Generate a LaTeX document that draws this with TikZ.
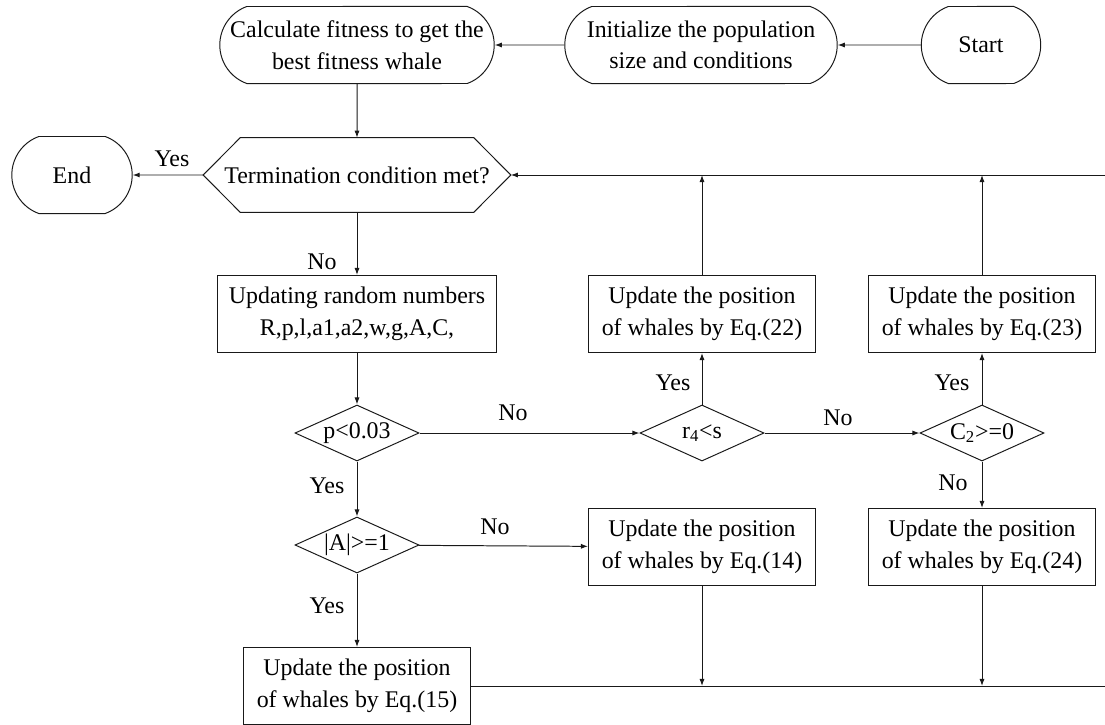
\documentclass[tikz,border=0pt]{standalone}
\usepackage{fontspec}
\setmainfont{Liberation Serif}
\usetikzlibrary{arrows.meta, shapes.geometric, shapes.misc}

\begin{document}
\begin{tikzpicture}[x=0.025cm, y=-0.025cm,
    every node/.style={font=\fontsize{17}{22.5}\selectfont, text=black},
    line/.style={draw=black!90, line width=0.7pt},
    arrowline/.style={line, -{Latex[length=5pt,width=3.6pt]}},
    terminal/.style={line, rounded rectangle, rounded rectangle arc length=140,
        minimum height=1.925cm, align=center, inner sep=2pt},
    process/.style={line, rectangle, minimum width=5.675cm, minimum height=1.925cm,
        align=center, inner sep=2pt},
    decision/.style={line, diamond, aspect=2.3, minimum width=3.1cm,
        minimum height=1.4cm, inner sep=0pt},
    judge/.style={rectangle, minimum width=7.675cm, minimum height=1.85cm, inner sep=0pt}]

    \useasboundingbox (0,0) rectangle (1105,724);

    % top row
    \node[terminal, minimum width=3.125cm] (start) at (981,45) {Start};
    \node[terminal, minimum width=6.95cm] (init) at (701,45) {Initialize the population\\size and conditions};
    \node[terminal, minimum width=7cm] (calc) at (357,45) {Calculate fitness to get the\\best fitness whale};

    \node[terminal, minimum width=3.15cm] (end) at (72,175) {End};
    \node[judge] (term) at (357,175) {Termination condition met?};
    \draw[line] (term.west) -- ([xshift=0.925cm]term.north west) -- ([xshift=-0.925cm]term.north east)
        -- (term.east) -- ([xshift=-0.925cm]term.south east) -- ([xshift=0.925cm]term.south west) -- cycle;
    \node[process, minimum width=6.95cm] (upd) at (357,314) {Updating random numbers\\R,p,l,a1,a2,w,g,A,C,};

    % decisions
    \node[decision] (pcheck) at (357,433) {p<0.03};
    \node[decision] (acheck) at (357,545) {|A|>=1};
    \node[decision] (rcheck) at (702,433) {r\textsubscript{4}<s};
    \node[decision] (ccheck) at (982,433) {C\textsubscript{2}>=0};

    % position updates
    \foreach \e/\x/\y in {22/702/314, 23/982/314, 14/702/547, 24/982/547, 15/357/686}
    {
        \node[process] (eq\e) at (\x,\y) {Update the position\\of whales by Eq.(\e)};
    };

    \coordinate (cTopR) at (1105,175);
    \coordinate (cBotR) at (1105,686);

    % connectors
    \draw[arrowline] (start) -- (init);
    \draw[arrowline] (init) -- (calc);
    \draw[arrowline] (calc) -- (term);
    \draw[arrowline] (term) -- (end);
    \draw[arrowline] (term) -- (upd);
    \draw[arrowline] (upd) -- (pcheck);
    \draw[arrowline] (pcheck) -- (rcheck);
    \draw[arrowline] (pcheck) -- (acheck);
    \draw[arrowline] (acheck) -- (eq14);
    \draw[arrowline] (acheck) -- (eq15);
    \draw[arrowline] (rcheck) -- (eq22);
    \draw[arrowline] (rcheck) -- (ccheck);
    \draw[arrowline] (ccheck) -- (eq23);
    \draw[arrowline] (ccheck) -- (eq24);

    % loop back
    \draw[line] (eq15) -- (cBotR);
    \draw[arrowline] (eq14) -- (eq14 |- cBotR);
    \draw[arrowline] (eq24) -- (eq24 |- cBotR);
    \draw[arrowline] (eq22) -- (eq22 |- cTopR);
    \draw[arrowline] (eq23) -- (eq23 |- cTopR);
    \draw[arrowline] (cTopR) -- (term);

    % branch labels
    \foreach \n/\x/\y/\t in
    {lbEnd/172/159/Yes,
     lbUpd/322/262/No,
     lbPYes/327/486/Yes,
     lbPNo/513/413/No,
     lbANo/495/527/No,
     lbAYes/327/606/Yes,
     lbRYes/673/383/Yes,
     lbRNo/838/418/No,
     lbCYes/952/383/Yes,
     lbCNo/953/483/No
    }
    {
        \node (\n) at (\x,\y) {\t};
    };

\end{tikzpicture}
\end{document}
